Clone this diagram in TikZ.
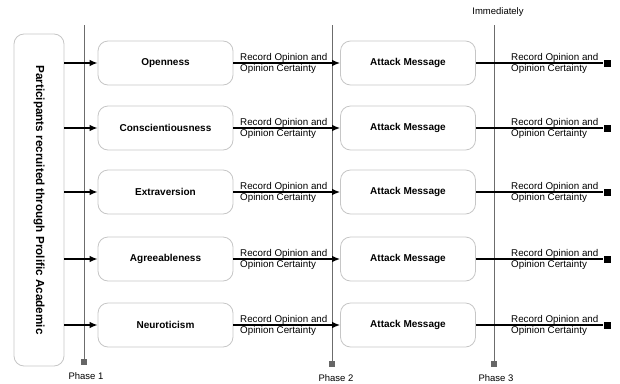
\documentclass[tikz,border=0pt]{standalone}
\usepackage{fontspec}
\setmainfont{Liberation Sans}
\usetikzlibrary{arrows.meta}
\begin{document}
\begin{tikzpicture}[x=1pt,y=-1pt]
\tikzset{
  stage/.style={draw=gray!45, line width=0.8pt, rounded corners=10pt, minimum width=135pt, minimum height=44pt, font=\fontsize{10}{12}\selectfont\bfseries},
  record/.style={font=\fontsize{9.8}{11}\selectfont, align=left, anchor=west, inner sep=0pt},
  phaseline/.style={draw=gray!85!black, line width=0.6pt},
  phasesq/.style={fill=gray!80!black, minimum size=6pt, inner sep=0pt},
  endsq/.style={fill=black, minimum size=7pt, inner sep=0pt},
  flow/.style={line width=1.3pt, -{Latex[length=8pt,width=6.5pt]}},
  plain/.style={line width=1.3pt},
  phaselabel/.style={font=\fontsize{9.5}{11}\selectfont}
}
\useasboundingbox (0,0) rectangle (620,383);
% phases
\coordinate (p1top) at (84,25);
\coordinate (p2top) at (332,25);
\coordinate (p3top) at (494,25);
\node[phasesq] (p1) at (84,362) {};
\node[phasesq] (p2) at (332,364) {};
\node[phasesq] (p3) at (494,364) {};
\draw[phaseline] (p1top) -- (p1);
\draw[phaseline] (p2top) -- (p2);
\draw[phaseline] (p3top) -- (p3);
\node[phaselabel] at (86,376) {Phase 1};
\node[phaselabel] at (336,378) {Phase 2};
\node[phaselabel] at (496,378) {Phase 3};
\node[phaselabel] at (498,12) {Immediately};
% participants
\node[stage, rotate=-90, minimum width=332pt, minimum height=50pt, font=\fontsize{11.7}{13}\selectfont\bfseries] (recruit) at (39,200) {Participants recruited through Prolific Academic};
% rows
\foreach \name/\trait/\y in {o/Openness/63, c/Conscientiousness/128, e/Extraversion/192, a/Agreeableness/259, n/Neuroticism/325} {
  \coordinate (s\name) at (64,\y);
  \node[stage] (t\name) at (165.5,\y) {\trait};
  \node[stage] (m\name) at (408,\y) {Attack Message};
  \node[endsq] (q\name) at (607,\y) {};
  \draw[flow] (s\name) -- (t\name);
  \draw[flow] (t\name) -- (m\name);
  \draw[plain] (m\name) -- (q\name);
  \node[record] (r\name) at (240,\y) {Record Opinion and\\Opinion Certainty};
  \node[record] (f\name) at (511,\y) {Record Opinion and\\Opinion Certainty};
}
\end{tikzpicture}
\end{document}
